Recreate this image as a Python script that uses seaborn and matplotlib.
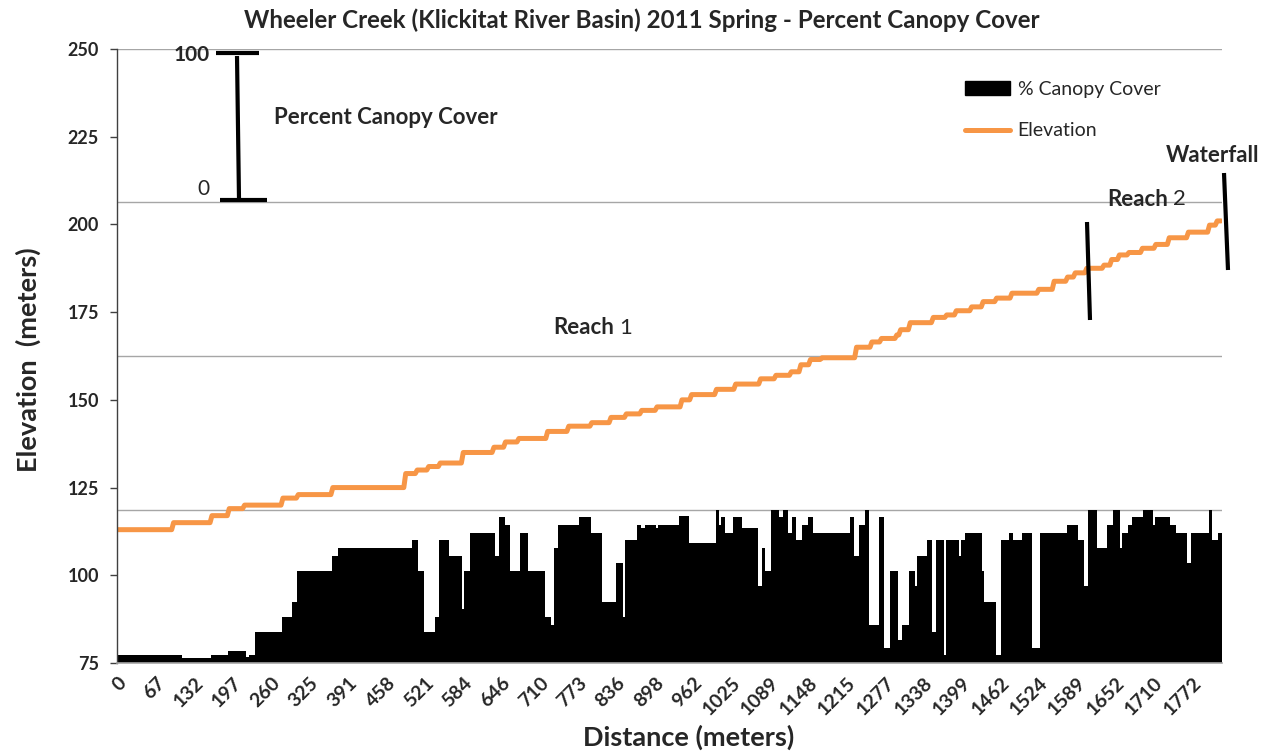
import numpy as np
import pandas as pd
import matplotlib
matplotlib.use("Agg")
import matplotlib.pyplot as plt
from matplotlib.lines import Line2D
from matplotlib.patches import Patch
import seaborn as sns

# ---------------- data ----------------
# sample points along the creek (category index); labels shown every 20 points
tick_labels = ["0", "67", "132", "197", "260", "325", "391", "458", "521", "584",
               "646", "710", "773", "836", "898", "962", "1025", "1089", "1148",
               "1215", "1277", "1338", "1399", "1462", "1524", "1589", "1652",
               "1710", "1772"]
n_points = 576

# percent canopy cover: run boundaries (point index) and value of each run
canopy_bounds = [0, 34, 49, 58, 67, 69, 72, 86, 91, 94, 112, 115, 154, 157, 160, 166,
                 168, 173, 180, 181, 184, 197, 199, 202, 205, 210, 214, 223, 226, 228,
                 230, 241, 247, 253, 260, 264, 265, 271, 273, 275, 281, 282, 293, 298,
                 312, 314, 315, 317, 321, 326, 334, 336, 338, 341, 345, 347, 350, 352,
                 354, 357, 360, 363, 382, 384, 387, 390, 392, 397, 400, 403, 407, 409,
                 413, 416, 417, 422, 425, 427, 431, 432, 439, 440, 442, 451, 452, 458,
                 461, 465, 467, 472, 477, 481, 495, 501, 504, 506, 511, 516, 519, 523,
                 524, 527, 529, 535, 540, 541, 549, 552, 558, 560, 569, 571, 574, 576]
canopy_values = [5, 3, 5, 8, 4, 5, 20, 30, 40, 60, 70, 75, 80, 60, 20,
                 30, 80, 70, 35, 60, 85, 70, 95, 90, 60, 85, 60, 30, 25,
                 75, 90, 95, 85, 40, 65, 30, 80, 90, 88, 90, 88, 90, 96,
                 78, 100, 90, 95, 85, 95, 88, 50, 75, 60, 100, 95, 100, 85,
                 95, 80, 90, 95, 85, 95, 70, 90, 100, 25, 95, 10, 60, 15,
                 25, 60, 50, 70, 80, 20, 80, 5, 80, 70, 80, 85, 60, 40,
                 5, 80, 85, 80, 85, 10, 85, 90, 80, 50, 100, 75, 90, 100,
                 75, 85, 90, 95, 100, 90, 95, 90, 85, 65, 85, 100, 80, 85]

# elevation (m): run boundaries (point index) and value of each run
elev_bounds = [0, 29, 49, 58, 66, 86, 94, 112, 150, 156, 162, 168, 180, 196, 202, 209,
               224, 235, 247, 257, 265, 273, 281, 294, 299, 312, 322, 335, 343, 351,
               356, 361, 367, 385, 393, 398, 406, 408, 413, 425, 432, 437, 445, 451,
               458, 466, 480, 488, 495, 499, 505, 514, 518, 522, 527, 534, 541, 548,
               558, 569, 573, 576]
elev_values = [113, 115, 117, 119, 120, 122, 123, 125, 129, 130, 131, 132, 135, 136.5,
               138, 139, 141, 142.5, 143.5, 145, 146, 147, 148, 150, 151.5, 153, 154.5,
               156, 157, 158, 160, 161.5, 162, 165, 166.5, 167.5, 168.5, 170, 172,
               173.5, 174.2, 175.4, 176.5, 178, 179, 180.4, 181.5, 183.8, 185, 186.2,
               187.5, 188.4, 190, 191.3, 192, 193.2, 194.3, 196.2, 197.8, 199.8, 201]

idx = np.arange(n_points)
canopy = np.repeat(canopy_values, np.diff(canopy_bounds))
elevation = np.repeat(elev_values, np.diff(elev_bounds))
df = pd.DataFrame({"point": idx, "canopy": canopy, "elevation": elevation})

# ---------------- figure ----------------
sns.set_theme(style="white")
plt.rcParams["font.family"] = ["Lato", "DejaVu Sans"]

W, H = 1273, 752
fig = plt.figure(figsize=(W / 100, H / 100), dpi=100)
ax = fig.add_axes([117 / W, 1 - 663 / H, (1222 - 117) / W, (663 - 49) / H])
ax2 = ax.twinx()

ORANGE = "#F79646"

# canopy bars on hidden secondary axis (0-400 so that 100 % fills the bottom quarter)
sns.barplot(data=df, x="point", y="canopy", ax=ax2, color="black", width=1.0,
            saturation=1, errorbar=None, linewidth=0)
ax2.set_ylim(0, 400)
ax2.set_yticks([100, 200, 300, 400])
ax2.yaxis.grid(True, color="#A6A6A6", linewidth=1.0)
ax2.tick_params(axis="y", right=False, labelright=False, length=0)
ax2.set_ylabel("")
for s in ax2.spines.values():
    s.set_visible(False)

# elevation line on primary axis (drawn above bars)
sns.lineplot(data=df, x="point", y="elevation", ax=ax, color=ORANGE, linewidth=3.6)
ax.set_zorder(ax2.get_zorder() + 1)
ax.patch.set_visible(False)

ax.set_xlim(-0.5, n_points - 0.5)
ax.set_ylim(75, 250)
ax.set_yticks(np.arange(75, 251, 25))
ax.set_yticklabels([str(v) for v in range(75, 251, 25)], fontsize=13, fontweight="bold")
ax.set_xticks(np.arange(0, 20 * len(tick_labels), 20))
ax.set_xticklabels(tick_labels, rotation=45, ha="right", rotation_mode="anchor",
                   fontsize=14, fontweight="bold")
ax.tick_params(axis="y", left=True, length=5, width=1, color="#404040", pad=8)
ax.tick_params(axis="x", bottom=False, length=0, pad=8)
ax.grid(False)
for s in ["top", "right"]:
    ax.spines[s].set_visible(False)
ax.spines["left"].set_color("#404040")
ax.spines["left"].set_linewidth(1.0)
ax.spines["bottom"].set_color("#A6A6A6")
ax.spines["bottom"].set_linewidth(1.2)

ax.set_xlabel("Distance (meters)", fontsize=19.5, fontweight="bold")
ax.xaxis.label.set_verticalalignment("center")
ax.xaxis.set_label_coords((689 - 117) / 1105, -(737 - 663) / 614)
ax.set_ylabel("Elevation  (meters)", fontsize=19.5, fontweight="bold")
ax.yaxis.label.set_verticalalignment("center")
ax.yaxis.set_label_coords(-(117 - 28) / 1105, (663 - 360) / 614)
fig.text(642 / W, 1 - 20 / H,
         "Wheeler Creek (Klickitat River Basin) 2011 Spring - Percent Canopy Cover",
         ha="center", va="center", fontsize=17.4, fontweight="bold")

# legend
handles = [Patch(facecolor="black", edgecolor="black"),
           Line2D([0], [0], color=ORANGE, linewidth=3.6)]
ax.legend(handles, ["% Canopy Cover", "Elevation"], loc="upper left",
          bbox_to_anchor=((965 - 117) / 1105, (663 - 81) / 614),
          borderaxespad=0, borderpad=0, frameon=False, fontsize=14,
          handlelength=2.3, handleheight=0.7, labelspacing=1.25, handletextpad=0.4)

# annotations (figure pixel positions)
def fx(x):
    return x / W

def fy(y):
    return 1 - y / H

def seg(x0, y0, x1, y1, lw=3.0):
    fig.add_artist(Line2D([fx(x0), fx(x1)], [fy(y0), fy(y1)], color="black",
                          linewidth=lw, transform=fig.transFigure, solid_capstyle="butt"))

seg(216, 53, 259, 53)
seg(220, 200, 267, 200)
seg(237, 56, 239, 199)
seg(1087, 222, 1090, 320)
seg(1224, 173, 1228, 270)

fig.text(fx(210), fy(55), "100", ha="right", va="center", fontsize=15, fontweight="bold")
fig.text(fx(209), fy(189), "0", ha="right", va="center", fontsize=15)
fig.text(fx(274), fy(117), "Percent Canopy Cover", ha="left", va="center",
         fontsize=16, fontweight="bold")
fig.text(fx(553), fy(328), "Reach", ha="left", va="center", fontsize=16, fontweight="bold")
fig.text(fx(619), fy(328), "1", ha="left", va="center", fontsize=16)
fig.text(fx(1107), fy(199), "Reach", ha="left", va="center", fontsize=16, fontweight="bold")
fig.text(fx(1173), fy(199), "2", ha="left", va="center", fontsize=16)
fig.text(fx(1166), fy(155), "Waterfall", ha="left", va="center", fontsize=16,
         fontweight="bold")

fig.savefig("out.png", dpi=100)
